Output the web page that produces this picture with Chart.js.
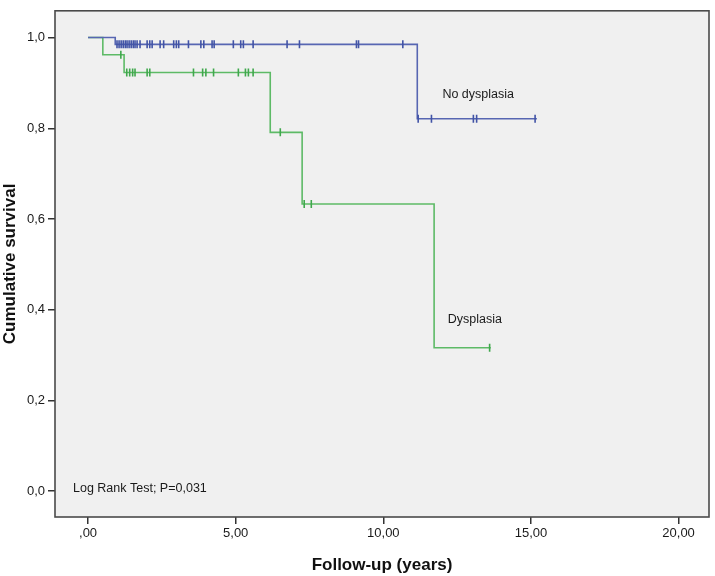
<!DOCTYPE html>
<html>
<head>
<meta charset="utf-8">
<script src="https://cdn.jsdelivr.net/npm/chart.js@4/dist/chart.umd.min.js"></script>
<style>
  html, body { margin: 0; padding: 0; background: #ffffff; }
  #wrap { width: 715px; height: 576px; position: relative; }
</style>
</head>
<body>
<div id="wrap"><canvas id="c" width="715" height="576"></canvas></div>
<script>
// ---- Data (Kaplan-Meier curves) ----
// No dysplasia: step times (years) and cumulative survival after each step
const noDysStepTimes    = [0, 0.92, 11.15, 15.2];
const noDysStepSurvival = [1.0, 0.985, 0.821, 0.821];
const noDysCensorTimes  = [0.98, 1.05, 1.12, 1.19, 1.26, 1.32, 1.39, 1.46, 1.53, 1.59, 1.66, 1.76,
                           2.00, 2.09, 2.17, 2.44, 2.56, 2.90, 2.99, 3.07, 3.40, 3.82, 3.92, 4.20, 4.27,
                           4.92, 5.17, 5.26, 5.59, 6.74, 7.16, 9.09, 9.16, 10.66,
                           11.18, 11.63, 13.05, 13.16, 15.14];

// Dysplasia
const dysStepTimes    = [0, 0.50, 1.22, 6.17, 7.25, 11.72, 13.64];
const dysStepSurvival = [1.0, 0.962, 0.923, 0.791, 0.633, 0.316, 0.316];
const dysCensorTimes  = [1.11, 1.31, 1.41, 1.51, 1.59, 2.00, 2.09, 3.57, 3.88, 3.99, 4.25,
                         5.09, 5.33, 5.43, 5.59, 6.51, 7.32, 7.56, 13.60];

// Axis ticks
const xTickValues = [0, 5, 10, 15, 20];
const xTickLabels = [',00', '5,00', '10,00', '15,00', '20,00'];
const yTickValues = [0, 0.2, 0.4, 0.6, 0.8, 1.0];
const yTickLabels = ['0,0', '0,2', '0,4', '0,6', '0,8', '1,0'];

// Texts
const seriesNames = ['No dysplasia', 'Dysplasia'];
const testText = 'Log Rank Test; P=0,031';
const xTitle = 'Follow-up (years)';
const yTitle = 'Cumulative survival';

// ---- helpers ----
function stepPoints(ts, ss) { return ts.map((t, i) => ({ x: t, y: ss[i] })); }
function survivalAt(t, ts, ss) {
  let v = ss[0];
  for (let i = 0; i < ts.length; i++) { if (ts[i] <= t) v = ss[i]; }
  return v;
}
function censorPoints(cs, ts, ss) { return cs.map(t => ({ x: t, y: survivalAt(t, ts, ss) })); }

const BLUE = '#5766b2';
const BLUE_MARK = '#4153a6';
const GREEN = '#5dba66';
const GREEN_MARK = '#3fa84c';
const FONT = "'Liberation Sans', Arial, sans-serif";

const bgPlugin = {
  id: 'bg',
  beforeDraw(chart) {
    const { ctx, chartArea: a } = chart;
    ctx.save();
    ctx.fillStyle = '#f0f0f0';
    ctx.fillRect(a.left, a.top, a.right - a.left, a.bottom - a.top);
    ctx.restore();
  },
  afterDraw(chart) {
    const { ctx, chartArea: a, scales } = chart;
    ctx.save();
    ctx.strokeStyle = '#4a4a4a';
    ctx.lineWidth = 1.6;
    ctx.strokeRect(a.left, a.top, a.right - a.left, a.bottom - a.top);
    // annotations
    ctx.fillStyle = '#1a1a1a';
    ctx.textBaseline = 'middle';
    ctx.textAlign = 'left';
    ctx.font = '12.5px ' + FONT;
    ctx.fillText(seriesNames[0], scales.x.getPixelForValue(12.0), scales.y.getPixelForValue(0.874));
    ctx.fillText(seriesNames[1], scales.x.getPixelForValue(12.18), scales.y.getPixelForValue(0.379));
    ctx.fillText(testText, scales.x.getPixelForValue(-0.51), scales.y.getPixelForValue(0.005));
    ctx.restore();
  }
};

new Chart(document.getElementById('c'), {
  type: 'scatter',
  data: {
    datasets: [
      {
        label: seriesNames[1] + ' line',
        data: stepPoints(dysStepTimes, dysStepSurvival),
        showLine: true, stepped: 'before',
        borderColor: GREEN, borderWidth: 1.6, pointRadius: 0, fill: false, order: 4
      },
      {
        label: seriesNames[1] + ' censored',
        data: censorPoints(dysCensorTimes, dysStepTimes, dysStepSurvival),
        showLine: false, pointStyle: 'line', rotation: 90, pointRadius: 4,
        borderColor: GREEN_MARK, borderWidth: 1.6, order: 3
      },
      {
        label: seriesNames[0] + ' line',
        data: stepPoints(noDysStepTimes, noDysStepSurvival),
        showLine: true, stepped: 'before',
        borderColor: BLUE, borderWidth: 1.6, pointRadius: 0, fill: false, order: 2
      },
      {
        label: seriesNames[0] + ' censored',
        data: censorPoints(noDysCensorTimes, noDysStepTimes, noDysStepSurvival),
        showLine: false, pointStyle: 'line', rotation: 90, pointRadius: 4,
        borderColor: BLUE_MARK, borderWidth: 1.6, order: 1
      }
    ]
  },
  options: {
    responsive: false,
    animation: false,
    layout: { padding: { top: 5, right: 6, left: 0, bottom: 0 } },
    plugins: { legend: { display: false }, tooltip: { enabled: false } },
    scales: {
      x: {
        type: 'linear', min: -1.12, max: 21.03,
        afterBuildTicks(s) { s.ticks = xTickValues.map(v => ({ value: v })); },
        afterFit(s) { s.height = 59; },
        ticks: {
          callback(v) { const i = xTickValues.indexOf(v); return i >= 0 ? xTickLabels[i] : ''; },
          color: '#1a1a1a', font: { family: FONT, size: 13 }, padding: 2, maxRotation: 0
        },
        grid: { drawOnChartArea: false, drawTicks: true, tickLength: 7, color: '#333333', lineWidth: 1.5 },
        border: { display: false },
        title: { display: true, text: xTitle, color: '#111111', font: { family: FONT, size: 17, weight: 'bold' }, padding: { top: 6, bottom: 0 } }
      },
      y: {
        type: 'linear', min: -0.057, max: 1.059,
        afterBuildTicks(s) { s.ticks = yTickValues.map(v => ({ value: v })); },
        afterFit(s) { s.width = 55; },
        ticks: {
          callback(v) { const i = yTickValues.findIndex(t => Math.abs(t - v) < 1e-9); return i >= 0 ? yTickLabels[i] : ''; },
          color: '#1a1a1a', font: { family: FONT, size: 13 }, padding: 3
        },
        grid: { drawOnChartArea: false, drawTicks: true, tickLength: 7, color: '#333333', lineWidth: 1.5 },
        border: { display: false },
        title: { display: true, text: yTitle, color: '#111111', font: { family: FONT, size: 17, weight: 'bold' }, padding: { top: 0, bottom: 3 } }
      }
    }
  },
  plugins: [bgPlugin]
});
</script>
</body>
</html>
